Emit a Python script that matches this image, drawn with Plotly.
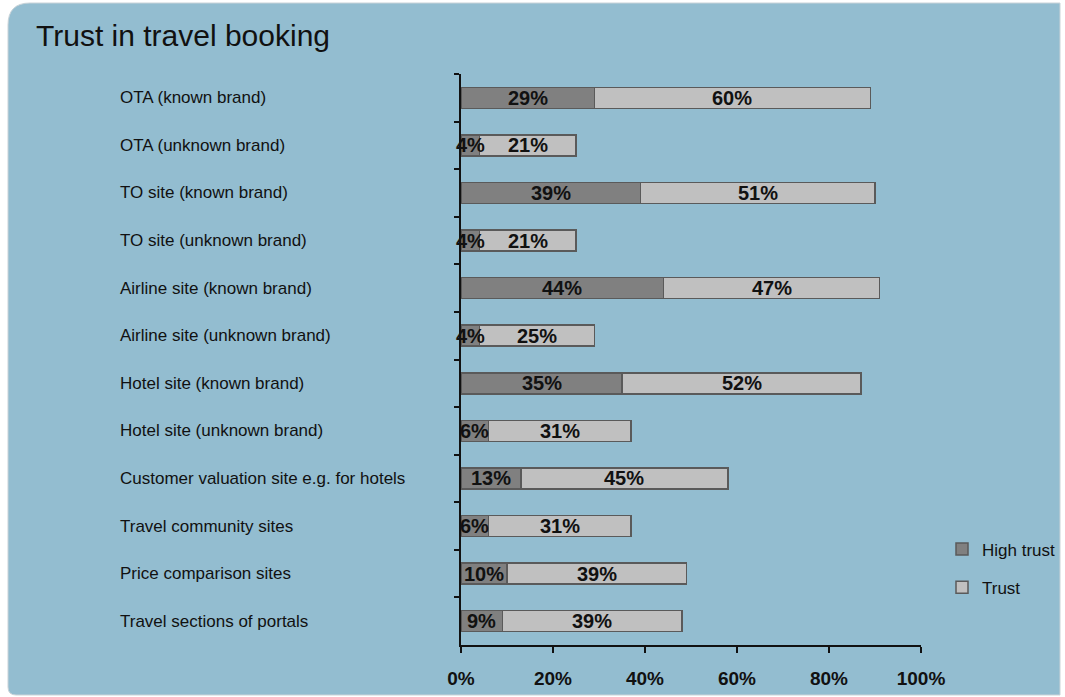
import plotly.graph_objects as go

# Survey categories, top to bottom
categories = [
    "OTA (known brand)",
    "OTA (unknown brand)",
    "TO site (known brand)",
    "TO site (unknown brand)",
    "Airline site (known brand)",
    "Airline site (unknown brand)",
    "Hotel site (known brand)",
    "Hotel site (unknown brand)",
    "Customer valuation site e.g. for hotels",
    "Travel community sites",
    "Price comparison sites",
    "Travel sections of portals",
]
high_trust = [29, 4, 39, 4, 44, 4, 35, 6, 13, 6, 10, 9]
trust = [60, 21, 51, 21, 47, 25, 52, 31, 45, 31, 39, 39]
x_ticks = [0, 20, 40, 60, 80, 100]

W, H = 1065, 697
L, R, T, B = 461, 144, 74, 52
PW, PH = W - L - R, H - T - B

def px_x(p):
    return (p - L) / PW

def px_y(p):
    return (H - B - p) / PH

FONT = "Liberation Sans, Arial, sans-serif"
PANEL = "#93BDD0"
EDGE = "#5a5a5a"

fig = go.Figure()
fig.add_trace(go.Bar(
    y=categories, x=high_trust, orientation="h", name="High trust",
    marker=dict(color="#808080", line=dict(color=EDGE, width=1.5)),
    width=0.44, legendgroup="a", hoverinfo="skip",
))
fig.add_trace(go.Bar(
    y=categories, x=trust, orientation="h", name="Trust",
    marker=dict(color="#C0C0C0", line=dict(color=EDGE, width=1.5)),
    width=0.44, legendgroup="b", hoverinfo="skip",
))

annotations = []
# value labels centred on each segment
for cat, h, t in zip(categories, high_trust, trust):
    annotations.append(dict(
        x=h / 2, y=cat, xref="x", yref="y", text=f"{h}%", showarrow=False,
        font=dict(family=FONT, size=20, color="#111111", weight="bold"),
        xanchor="center", yanchor="middle",
    ))
    annotations.append(dict(
        x=h + t / 2, y=cat, xref="x", yref="y", text=f"{t}%", showarrow=False,
        font=dict(family=FONT, size=20, color="#111111", weight="bold"),
        xanchor="center", yanchor="middle",
    ))
# left-aligned category names
for cat in categories:
    annotations.append(dict(
        x=px_x(118), y=cat, xref="paper", yref="y", text=cat, showarrow=False,
        font=dict(family=FONT, size=17, color="#111111"),
        xanchor="left", yanchor="middle",
    ))

# rounded background panel
x0, x1 = px_x(8), px_x(1060)
y0, y1 = px_y(3), px_y(695)
rt = 22 / PW, 22 / PH
rb = 8 / PW, 8 / PH
panel_path = (
    f"M{x0 + rt[0]},{y0} L{x1},{y0} L{x1},{y1} L{x0 + rb[0]},{y1} "
    f"Q{x0},{y1} {x0},{y1 + rb[1]} L{x0},{y0 - rt[1]} Q{x0},{y0} {x0 + rt[0]},{y0} Z"
)
shapes = [
    dict(type="path", path=panel_path, xref="paper", yref="paper",
         fillcolor=PANEL, line=dict(color="#c9d3d8", width=1), layer="below"),
]

fig.update_layout(
    width=W, height=H,
    margin=dict(l=L, r=R, t=T, b=B, autoexpand=False),
    paper_bgcolor="white",
    plot_bgcolor="rgba(0,0,0,0)",
    barmode="stack",
    title=dict(
        text="Trust in travel booking",
        x=36 / W, xref="container", xanchor="left",
        y=1 - 35 / H, yref="container", yanchor="middle",
        font=dict(family=FONT, size=30, color="#111111"),
    ),
    xaxis=dict(
        range=[0, 100], tickvals=x_ticks, ticktext=[f"{v}%" for v in x_ticks],
        showgrid=False, zeroline=False,
        showline=True, linecolor="#111111", linewidth=1.5,
        ticks="outside", ticklen=6, tickcolor="#111111", tickwidth=1.5,
        ticklabelstandoff=9,
        tickfont=dict(family=FONT, size=19, color="#111111", weight="bold"),
        fixedrange=True,
    ),
    yaxis=dict(
        categoryorder="array", categoryarray=categories,
        range=[len(categories) - 0.5, -0.5],
        showgrid=False, zeroline=False, showticklabels=False,
        showline=True, linecolor="#111111", linewidth=1.5,
        ticks="outside", ticklen=5, tickcolor="#111111", tickwidth=1.5,
        tickson="boundaries",
        fixedrange=True,
    ),
    legend=dict(
        x=942 / W, y=1 - 531.5 / H, xref="container", yref="container",
        xanchor="left", yanchor="top",
        bgcolor="rgba(0,0,0,0)", borderwidth=0,
        traceorder="grouped", tracegroupgap=13,
        font=dict(family=FONT, size=17, color="#111111"),
    ),
    annotations=annotations,
    shapes=shapes,
)

fig.write_html("out.html")
